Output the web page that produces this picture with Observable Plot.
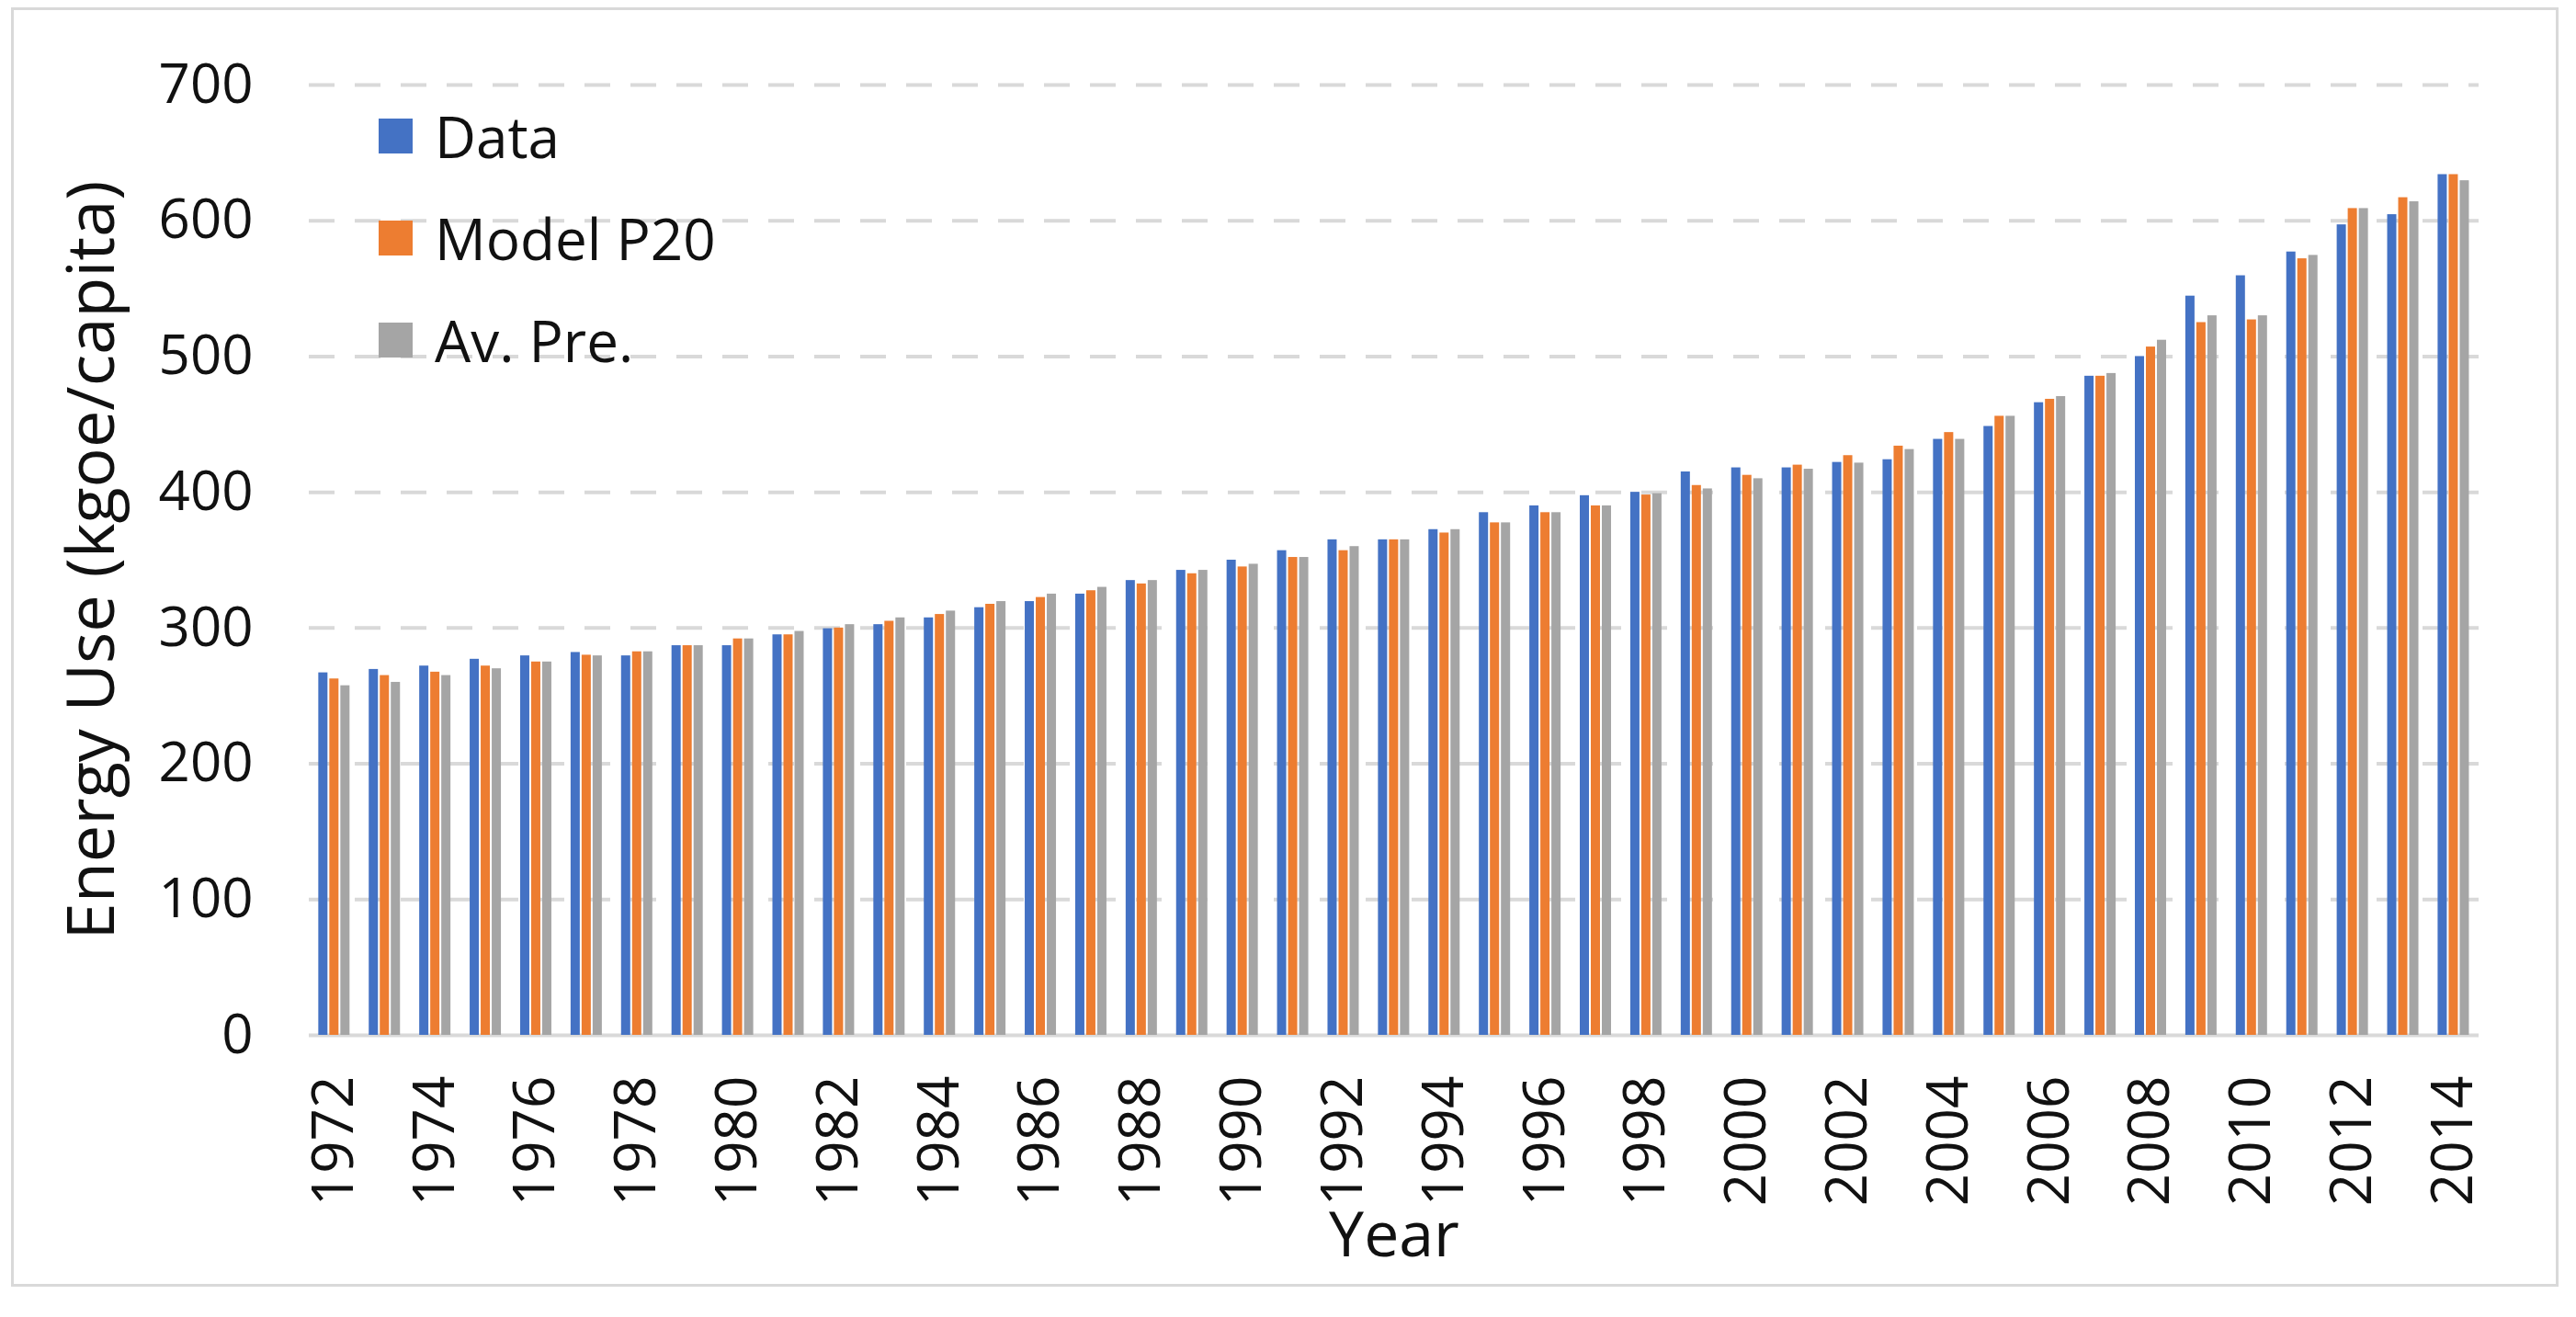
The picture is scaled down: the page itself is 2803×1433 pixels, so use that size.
<!DOCTYPE html>
<html>
<head>
<meta charset="utf-8">
<script src="https://cdn.jsdelivr.net/npm/d3@7"></script>
<script src="https://cdn.jsdelivr.net/npm/@observablehq/plot@0.6"></script>
<style>
  html, body { margin: 0; padding: 0; background: #fff; }
  #wrap { position: relative; width: 2803px; height: 1433px; overflow: hidden; font-family: "Open Sans", sans-serif; color: #111; }
  #frame { position: absolute; left: 12px; top: 8px; width: 2772px; height: 1392px; border: 3px solid #d9d9d9; box-sizing: border-box; }
  .layer { position: absolute; left: 0; top: 0; }
  #legend { position: absolute; left: 412px; top: 92px; font-family: "Open Sans", sans-serif; font-size: 62px; color: #111; }
  #legend .row { display: flex; align-items: center; height: 111px; }
  #legend .sw { width: 37px; height: 38px; margin-right: 24px; }
</style>
</head>
<body>
<div id="wrap">
  <div id="frame"></div>
  <div id="bg" class="layer"></div>
  <div id="fg" class="layer"></div>
  <div id="legend"></div>
</div>
<script>
const years = d3.range(1972, 2015);
const seriesNames = ["Data", "Model P20", "Av. Pre."];
const seriesColors = ["#4472C4", "#ED7D31", "#A5A5A5"];
const yTicks = [0, 100, 200, 300, 400, 500, 600, 700];

const dataValues = [267, 269.5, 272, 277, 279.5, 282, 279.5, 287, 287, 295,
  299.5, 302.5, 307.5, 315, 319.5, 325, 335, 342.5, 350, 357,
  365, 365, 372.5, 385, 390, 397.5, 400, 415, 418, 418,
  422, 424, 439, 448.5, 466, 485.5, 500, 544.5, 559.5, 577,
  597, 604.5, 634];
const modelValues = [262.5, 265, 267.5, 272, 275, 280, 282.5, 287, 292, 295,
  300, 305, 310, 317.5, 322.5, 327.5, 332.5, 340, 345, 352,
  357, 365, 370, 377.5, 385, 390, 398, 405, 412.5, 420,
  427, 434, 444, 456, 468.5, 485.5, 507, 525, 527, 572,
  609, 617, 634];
const avPreValues = [257.5, 260, 265, 270, 275, 279.5, 282.5, 287, 292, 297.5,
  302.5, 307.5, 312.5, 319.5, 325, 330, 335, 342.5, 347, 352,
  360, 365, 372.5, 377.5, 385, 390, 399, 402.5, 410, 417,
  421.5, 431.5, 439, 456, 470.5, 487.5, 512, 530, 530, 574.5,
  609, 614, 629.5];

const seriesValues = [dataValues, modelValues, avPreValues];
const table = years.flatMap((year, i) =>
  seriesNames.map((s, k) => ({ year, series: s, value: seriesValues[k][i] })));

const W = 2803, H = 1433;
const margins = { marginLeft: 336, marginRight: 106, marginTop: 92, marginBottom: 307 };
const font = "'Open Sans', sans-serif";

const bg = Plot.plot({
  width: W, height: H, ...margins,
  style: { background: "transparent", fontFamily: font, color: "#111", overflow: "visible" },
  y: { domain: [0, 700] },
  marks: [
    Plot.ruleY(yTicks.filter(d => d > 0), { stroke: "#d9d9d9", strokeWidth: 4, strokeDasharray: "28,22" }),
    Plot.ruleY([0], { stroke: "#d9d9d9", strokeWidth: 4 }),
    Plot.axisY(yTicks, {
      tickSize: 0, tickPadding: 61, fontSize: 60,
      label: "Energy Use (kgoe/capita)", labelAnchor: "center", labelOffset: 264, labelArrow: "none"
    })
  ]
});
document.getElementById("bg").appendChild(bg);

const fg = Plot.plot({
  width: W, height: H, ...margins,
  style: { background: "transparent", fontFamily: font, color: "#111", overflow: "visible" },
  fx: { domain: years, paddingInner: 0.34, paddingOuter: 0.17 },
  x: { domain: seriesNames, paddingInner: 0.15, paddingOuter: 0.05, axis: null },
  y: { domain: [0, 700], axis: null },
  color: { domain: seriesNames, range: seriesColors },
  marks: [
    Plot.barY(table, { fx: "year", x: "series", y: "value", fill: "series" }),
    Plot.axisFx({
      anchor: "bottom",
      tickFormat: d => (d % 2 === 0 ? String(d) : ""),
      tickRotate: -90, tickSize: 0, tickPadding: 44, fontSize: 62,
      label: "Year", labelAnchor: "center", labelOffset: 240, labelArrow: "none"
    })
  ]
});
document.getElementById("fg").appendChild(fg);

// enlarge axis titles
d3.select(bg).selectAll('[aria-label="y-axis label"] text').style("font-size", "72px");
d3.select(fg).selectAll('[aria-label="fx-axis label"] text').style("font-size", "68px");

// legend
const legend = d3.select("#legend");
seriesNames.forEach((s, k) => {
  const row = legend.append("div").attr("class", "row");
  row.append("div").attr("class", "sw").style("background", seriesColors[k]);
  row.append("span").text(s);
});
</script>
</body>
</html>
